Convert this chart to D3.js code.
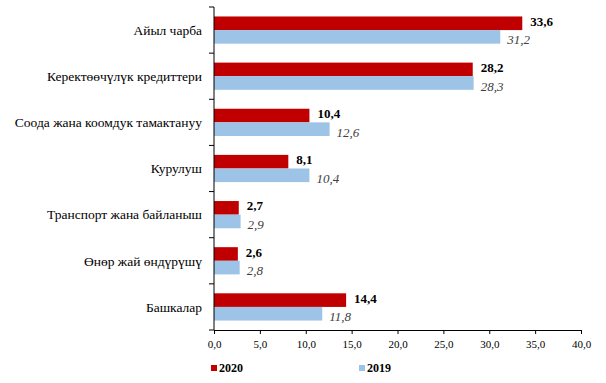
<!DOCTYPE html>
<html>
<head>
<meta charset="utf-8">
<script src="https://d3js.org/d3.v7.min.js"></script>
<style>
  body { margin: 0; background: #fff; }
</style>
</head>
<body>
<div id="chart"></div>
<script>
var categories = ["Айыл чарба", "Керектөөчүлүк кредиттери", "Соода жана коомдук тамактануу",
  "Курулуш", "Транспорт жана байланыш", "Өнөр жай өндүрүшү", "Башкалар"];
var values2020 = [33.6, 28.2, 10.4, 8.1, 2.7, 2.6, 14.4];
var values2019 = [31.2, 28.3, 12.6, 10.4, 2.9, 2.8, 11.8];
var xTicks = [0, 5, 10, 15, 20, 25, 30, 35, 40];

var width = 606, height = 383;
var fontName = "Liberation Serif";
var fmt = function (v) { return d3.format(".1f")(v).replace(".", ","); };

var svg = d3.select("#chart").append("svg")
  .attr("width", width)
  .attr("height", height)
  .attr("font-family", fontName);

var x = d3.scaleLinear().domain([0, 40]).range([214, 581]);
var y = d3.scaleBand().domain(categories).range([7, 330]).paddingInner(0.41).paddingOuter(0.205);
var sub = d3.scaleBand().domain(["2020", "2019"]).range([0, y.bandwidth()]);

// bars
var groups = svg.append("g").selectAll("g")
  .data(categories)
  .enter().append("g")
  .attr("transform", function (d) { return "translate(0," + y(d) + ")"; });

groups.append("rect")
  .attr("x", x(0))
  .attr("y", sub("2020"))
  .attr("width", function (d, i) { return x(values2020[i]) - x(0); })
  .attr("height", sub.bandwidth())
  .attr("fill", "#C00000");

groups.append("rect")
  .attr("x", x(0))
  .attr("y", sub("2019"))
  .attr("width", function (d, i) { return x(values2019[i]) - x(0); })
  .attr("height", sub.bandwidth())
  .attr("fill", "#9DC3E6");

groups.append("text")
  .attr("x", function (d, i) { return x(values2020[i]) + 8; })
  .attr("y", sub("2020") + sub.bandwidth() / 2 - 2)
  .attr("dy", "0.35em")
  .attr("font-family", fontName)
  .attr("font-size", 13)
  .attr("font-weight", "bold")
  .attr("fill", "#000")
  .text(function (d, i) { return fmt(values2020[i]); });

groups.append("text")
  .attr("x", function (d, i) { return x(values2019[i]) + 7; })
  .attr("y", sub("2019") + sub.bandwidth() / 2 + 3)
  .attr("dy", "0.35em")
  .attr("font-family", fontName)
  .attr("font-size", 13)
  .attr("font-style", "italic")
  .attr("fill", "#404040")
  .text(function (d, i) { return fmt(values2019[i]); });

// x axis
var xAxis = svg.append("g")
  .attr("transform", "translate(0,330)")
  .call(d3.axisBottom(x).tickValues(xTicks).tickFormat(fmt).tickSize(4).tickSizeOuter(0))
  .attr("font-family", fontName)
  .attr("font-size", 11);
xAxis.select(".domain").attr("stroke", "#000");
xAxis.selectAll("text")
  .attr("fill", "#000")
  .attr("dy", "1em");

// y axis: ticks between categories, labels centered on band
var yAxis = svg.append("g").attr("transform", "translate(214,0)");
yAxis.append("line")
  .attr("y1", y.range()[0]).attr("y2", y.range()[1])
  .attr("stroke", "#000");
var bounds = d3.range(categories.length + 1).map(function (i) { return y.range()[0] + i * y.step(); });
yAxis.selectAll(".tk").data(bounds).enter().append("line")
  .attr("x1", -5).attr("x2", 0)
  .attr("y1", function (d) { return d; }).attr("y2", function (d) { return d; })
  .attr("stroke", "#000");
yAxis.selectAll(".lbl").data(categories).enter().append("text")
  .attr("x", -12)
  .attr("y", function (d) { return y(d) + y.bandwidth() / 2; })
  .attr("dy", "0.35em")
  .attr("text-anchor", "end")
  .attr("font-family", fontName)
  .attr("font-size", 13.5)
  .attr("fill", "#000")
  .text(function (d) { return d; });

// legend
var legend = [{ name: "2020", color: "#C00000", x: 211 }, { name: "2019", color: "#9DC3E6", x: 359 }];
var lg = svg.append("g").selectAll("g").data(legend).enter().append("g")
  .attr("transform", function (d) { return "translate(" + d.x + ",368)"; });
lg.append("rect").attr("x", 0).attr("y", -3).attr("width", 6).attr("height", 6)
  .attr("fill", function (d) { return d.color; });
lg.append("text").attr("x", 8).attr("dy", "0.35em")
  .attr("font-family", fontName)
  .attr("font-size", 12).attr("font-weight", "bold")
  .text(function (d) { return d.name; });
</script>
</body>
</html>
